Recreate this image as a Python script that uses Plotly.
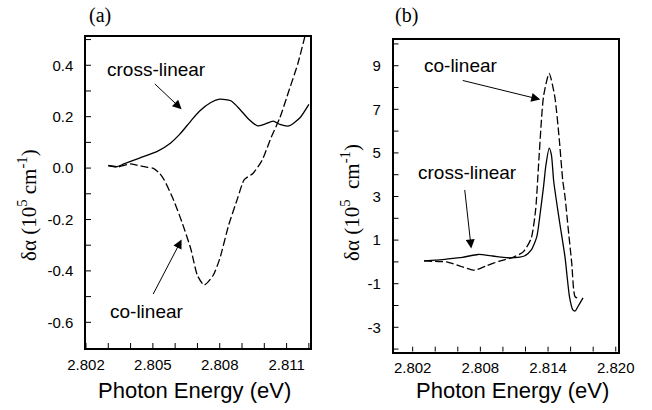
import plotly.graph_objects as go

# ---------------- data: panel (a) ----------------
a_cross_x = [2.8030, 2.8034, 2.8037, 2.8044, 2.8052, 2.8058, 2.8062, 2.8067, 2.8071,
             2.8076, 2.8080, 2.8085, 2.8089, 2.8093, 2.8097, 2.8100, 2.8104, 2.8107,
             2.8111, 2.8116, 2.8120]
a_cross_y = [0.010, 0.006, 0.016, 0.039, 0.065, 0.098, 0.131, 0.183, 0.222,
             0.255, 0.268, 0.262, 0.229, 0.190, 0.164, 0.170, 0.183, 0.170,
             0.164, 0.196, 0.248]

a_co_x = [2.8030, 2.8034, 2.8040, 2.8043, 2.8047, 2.8050, 2.8053, 2.8055, 2.8059,
          2.8063, 2.8067, 2.8070, 2.8073, 2.8077, 2.8080, 2.8084, 2.8088, 2.8091,
          2.8095, 2.8099, 2.8103, 2.8107, 2.8111, 2.8115, 2.8119]
a_co_y = [0.010, 0.004, 0.016, 0.011, 0.004, 0.000, -0.020, -0.045, -0.118,
          -0.209, -0.314, -0.418, -0.455, -0.418, -0.353, -0.222, -0.118, -0.045,
          -0.020, 0.030, 0.118, 0.196, 0.300, 0.405, 0.540]

# tick positions (every tick mark) and their labels ("" = unlabelled tick)
a_xtick_vals = [2.802, 2.803, 2.804, 2.805, 2.806, 2.807, 2.808, 2.809, 2.810, 2.811, 2.812]
a_xtick_text = ["2.802", "", "", "2.805", "", "", "2.808", "", "", "2.811", ""]
a_ytick_vals = [-0.6, -0.5, -0.4, -0.3, -0.2, -0.1, 0.0, 0.1, 0.2, 0.3, 0.4, 0.5]
a_ytick_text = ["-0.6", "", "-0.4", "", "-0.2", "", "0.0", "", "0.2", "", "0.4", ""]

# ---------------- data: panel (b) ----------------
b_cross_x = [2.8030, 2.8040, 2.8050, 2.8064, 2.8078, 2.8091, 2.8104, 2.8115, 2.8119,
             2.8125, 2.8130, 2.8133, 2.8136, 2.8138, 2.8141, 2.8143, 2.8145, 2.8150,
             2.8155, 2.8159, 2.8162, 2.8164, 2.8167, 2.8171]
b_cross_y = [0.05, 0.08, 0.13, 0.21, 0.34, 0.27, 0.19, 0.22, 0.27,
             0.54, 1.15, 2.22, 3.45, 4.40, 5.22, 4.90, 3.70, 1.90,
             0.23, -1.60, -2.20, -2.25, -2.00, -1.65]

b_co_x = [2.8030, 2.8040, 2.8050, 2.8062, 2.8075, 2.8085, 2.8097, 2.8109, 2.8118,
          2.8125, 2.8129, 2.8132, 2.8136, 2.8141, 2.8146, 2.8150, 2.8153, 2.8155,
          2.8158, 2.8161, 2.8164, 2.8168]
b_co_y = [0.05, 0.02, 0.00, -0.19, -0.38, -0.19, 0.04, 0.21, 0.46,
          1.07, 2.40, 4.80, 7.60, 8.65, 7.57, 5.59, 3.75, 3.00,
          1.46, -0.07, -1.60, -1.67]

b_xtick_vals = [2.802, 2.804, 2.806, 2.808, 2.810, 2.812, 2.814, 2.816, 2.818, 2.820]
b_xtick_text = ["2.802", "", "", "2.808", "", "", "2.814", "", "", "2.820"]
b_ytick_vals = [-4, -3, -2, -1, 0, 1, 2, 3, 4, 5, 6, 7, 8, 9, 10]
b_ytick_text = ["", "-3", "", "-1", "", "1", "", "3", "", "5", "", "7", "", "9", ""]

# ---------------- figure ----------------
W, H = 652, 410
SANS = "Liberation Sans, Arial, sans-serif"
SERIF = "Liberation Serif, Times New Roman, serif"

A_X_DOM = [86 / W, 310 / W]
A_Y_DOM = [1 - 348 / H, 1 - 37 / H]
B_X_DOM = [393.5 / W, 618 / W]
B_Y_DOM = [1 - 351.7 / H, 1 - 40 / H]
A_X_RANGE = [2.802, 2.81205]
A_Y_RANGE = [-0.70, 0.51]
B_X_RANGE = [2.8003, 2.8202]
B_Y_RANGE = [-4.12, 10.18]

fig = go.Figure()
solid = dict(color="black", width=1.3, shape="spline", smoothing=0.6)
dashed = dict(color="black", width=1.3, dash="8px,3px", shape="spline", smoothing=0.6)

fig.add_trace(go.Scatter(x=a_cross_x, y=a_cross_y, mode="lines", line=solid,
                         name="cross-linear", xaxis="x", yaxis="y"))
fig.add_trace(go.Scatter(x=a_co_x, y=a_co_y, mode="lines", line=dashed,
                         name="co-linear", xaxis="x", yaxis="y"))
fig.add_trace(go.Scatter(x=b_cross_x, y=b_cross_y, mode="lines", line=solid,
                         name="cross-linear", xaxis="x2", yaxis="y2"))
fig.add_trace(go.Scatter(x=b_co_x, y=b_co_y, mode="lines", line=dashed,
                         name="co-linear", xaxis="x2", yaxis="y2"))

axis_common = dict(showline=True, mirror=True, linecolor="black", linewidth=1.5,
                   showgrid=False, zeroline=False, ticks="", automargin=False,
                   tickfont=dict(family=SANS, size=15, color="black"),
                   tickmode="array")

fig.update_layout(
    template="none",
    width=W, height=H,
    margin=dict(l=0, r=0, t=0, b=0, pad=0),
    paper_bgcolor="white", plot_bgcolor="rgba(0,0,0,0)",
    showlegend=False,
    font=dict(family=SANS, color="black"),
    xaxis=dict(axis_common, domain=A_X_DOM, range=A_X_RANGE,
               anchor="y", tickvals=a_xtick_vals, ticktext=a_xtick_text,
               ticklabelstandoff=2),
    yaxis=dict(axis_common, domain=A_Y_DOM, range=A_Y_RANGE,
               anchor="x", tickvals=a_ytick_vals, ticktext=a_ytick_text,
               ticklabelstandoff=8),
    xaxis2=dict(axis_common, domain=B_X_DOM, range=B_X_RANGE,
                anchor="y2", tickvals=b_xtick_vals, ticktext=b_xtick_text,
                ticklabelstandoff=2),
    yaxis2=dict(axis_common, domain=B_Y_DOM, range=B_Y_RANGE,
                anchor="x2", tickvals=b_ytick_vals, ticktext=b_ytick_text,
                ticklabelstandoff=8),
)

# inward-pointing tick marks, placed on the axes' own scales (length in pixels)
TICK_LEN = 5
tick_line = dict(color="black", width=1)
shapes = []
for xv in a_xtick_vals:
    shapes.append(dict(type="line", xref="x", yref="y", ysizemode="pixel",
                       yanchor=A_Y_RANGE[0], x0=xv, x1=xv, y0=0, y1=TICK_LEN, line=tick_line))
for yv in a_ytick_vals:
    shapes.append(dict(type="line", xref="x", yref="y", xsizemode="pixel",
                       xanchor=A_X_RANGE[0], y0=yv, y1=yv, x0=0, x1=TICK_LEN, line=tick_line))
for xv in b_xtick_vals:
    shapes.append(dict(type="line", xref="x2", yref="y2", ysizemode="pixel",
                       yanchor=B_Y_RANGE[0], x0=xv, x1=xv, y0=0, y1=TICK_LEN, line=tick_line))
for yv in b_ytick_vals:
    shapes.append(dict(type="line", xref="x2", yref="y2", xsizemode="pixel",
                       xanchor=B_X_RANGE[0], y0=yv, y1=yv, x0=0, x1=TICK_LEN, line=tick_line))
fig.update_layout(shapes=shapes)

ann = []
# axis titles
for xc in (194, 512):
    ann.append(dict(text="Photon Energy (eV)", xref="paper", yref="paper",
                    x=xc / W, y=1 - 390 / H, xanchor="center", yanchor="middle",
                    showarrow=False, font=dict(family=SANS, size=22, color="black")))
ann.append(dict(text="δα (10<sup>5</sup> cm<sup>-1</sup>)", xref="paper", yref="paper",
                x=27 / W, y=1 - 205 / H, xanchor="center", yanchor="middle",
                textangle=-90, showarrow=False,
                font=dict(family=SERIF, size=21, color="black")))
ann.append(dict(text="δα (10<sup>5</sup>  cm<sup>-1</sup>)", xref="paper", yref="paper",
                x=350 / W, y=1 - 203 / H, xanchor="center", yanchor="middle",
                textangle=-90, showarrow=False,
                font=dict(family=SERIF, size=21, color="black")))
# panel labels
ann.append(dict(text="(a)", xref="paper", yref="paper", x=100 / W, y=1 - 15 / H,
                xanchor="center", yanchor="middle", showarrow=False,
                font=dict(family=SERIF, size=20, color="black")))
ann.append(dict(text="(b)", xref="paper", yref="paper", x=406 / W, y=1 - 15 / H,
                xanchor="center", yanchor="middle", showarrow=False,
                font=dict(family=SERIF, size=20, color="black")))

# curve labels
lab_font = dict(family=SANS, size=19, color="black")
ann += [
    dict(text="cross-linear", xref="x", yref="y", x=2.80518, y=0.383, showarrow=False, font=lab_font),
    dict(text="co-linear", xref="x", yref="y", x=2.80474, y=-0.558, showarrow=False, font=lab_font),
    dict(text="co-linear", xref="x2", yref="y2", x=2.80630, y=8.99, showarrow=False, font=lab_font),
    dict(text="cross-linear", xref="x2", yref="y2", x=2.80684, y=4.10, showarrow=False, font=lab_font),
]
# arrows (tip at x,y ; tail at ax,ay)
arrow_style = dict(text="", showarrow=True, arrowhead=2, arrowsize=1.8, arrowwidth=1,
                   arrowcolor="black", standoff=0, startstandoff=0)
ann += [
    dict(arrow_style, xref="x", yref="y", axref="x", ayref="y",
         x=2.80629, y=0.229, ax=2.80502, ay=0.333),
    dict(arrow_style, xref="x", yref="y", axref="x", ayref="y",
         x=2.80629, y=-0.278, ax=2.80498, ay=-0.496),
    dict(arrow_style, xref="x2", yref="y2", axref="x2", ayref="y2",
         x=2.81331, y=7.45, ax=2.80630, ay=8.34),
    dict(arrow_style, xref="x2", yref="y2", axref="x2", ayref="y2",
         x=2.80719, y=0.62, ax=2.80660, ay=3.37),
]
fig.update_layout(annotations=ann)

fig.write_html("out.html", config={"displayModeBar": False},
               post_script="document.body.style.margin='0';document.body.style.overflow='hidden';")
